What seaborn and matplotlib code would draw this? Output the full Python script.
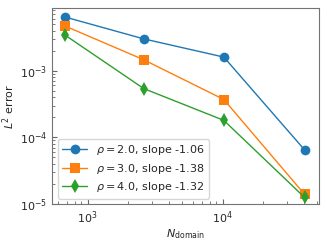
import seaborn as sns
import matplotlib
matplotlib.use("Agg")
import matplotlib.pyplot as plt
import pandas as pd

n_domain = [676, 2601, 10201, 40401]
err_rho2 = [6.4e-3, 3.0e-3, 1.6e-3, 6.5e-5]
err_rho3 = [4.7e-3, 1.46e-3, 3.7e-4, 1.4e-5]
err_rho4 = [3.45e-3, 5.4e-4, 1.8e-4, 1.26e-5]
labels = [r"$\rho = 2.0$, slope -1.06",
          r"$\rho = 3.0$, slope -1.38",
          r"$\rho = 4.0$, slope -1.32"]

rows = []
for lab, errs in zip(labels, [err_rho2, err_rho3, err_rho4]):
    for n, e in zip(n_domain, errs):
        rows.append({"N": n, "err": e, "case": lab})
data = pd.DataFrame(rows)

sns.set_style("ticks")
plt.rcParams["font.family"] = ["DejaVu Sans"]

fig, ax = plt.subplots(figsize=(3.27, 2.43), dpi=100)
fig.subplots_adjust(left=0.16, right=0.975, bottom=0.16, top=0.967)

sns.lineplot(data=data, x="N", y="err", hue="case", style="case",
             markers=["o", "s", "d"], dashes=False, markersize=7,
             markeredgewidth=0, linewidth=1, palette="tab10", ax=ax)

ax.set_xscale("log")
ax.set_yscale("log")
ax.set_xlim(548, 51500)
ax.set_ylim(1e-5, 8.7e-3)
ax.set_xlabel(r"$N_{\mathrm{domain}}$", fontsize=8, labelpad=1)
ax.set_ylabel(r"$L^2$ error", fontsize=8, labelpad=2)
ax.tick_params(which="both", direction="in", labelsize=8, color="0.4")
ax.tick_params(which="major", length=3.5)
ax.tick_params(which="minor", length=2)
for s in ax.spines.values():
    s.set_color("0.45")

ax.legend(loc="lower left", fontsize=8, handlelength=2.2, borderpad=0.4,
          labelspacing=0.4, handletextpad=0.8)

fig.savefig("out.png", dpi=100)
